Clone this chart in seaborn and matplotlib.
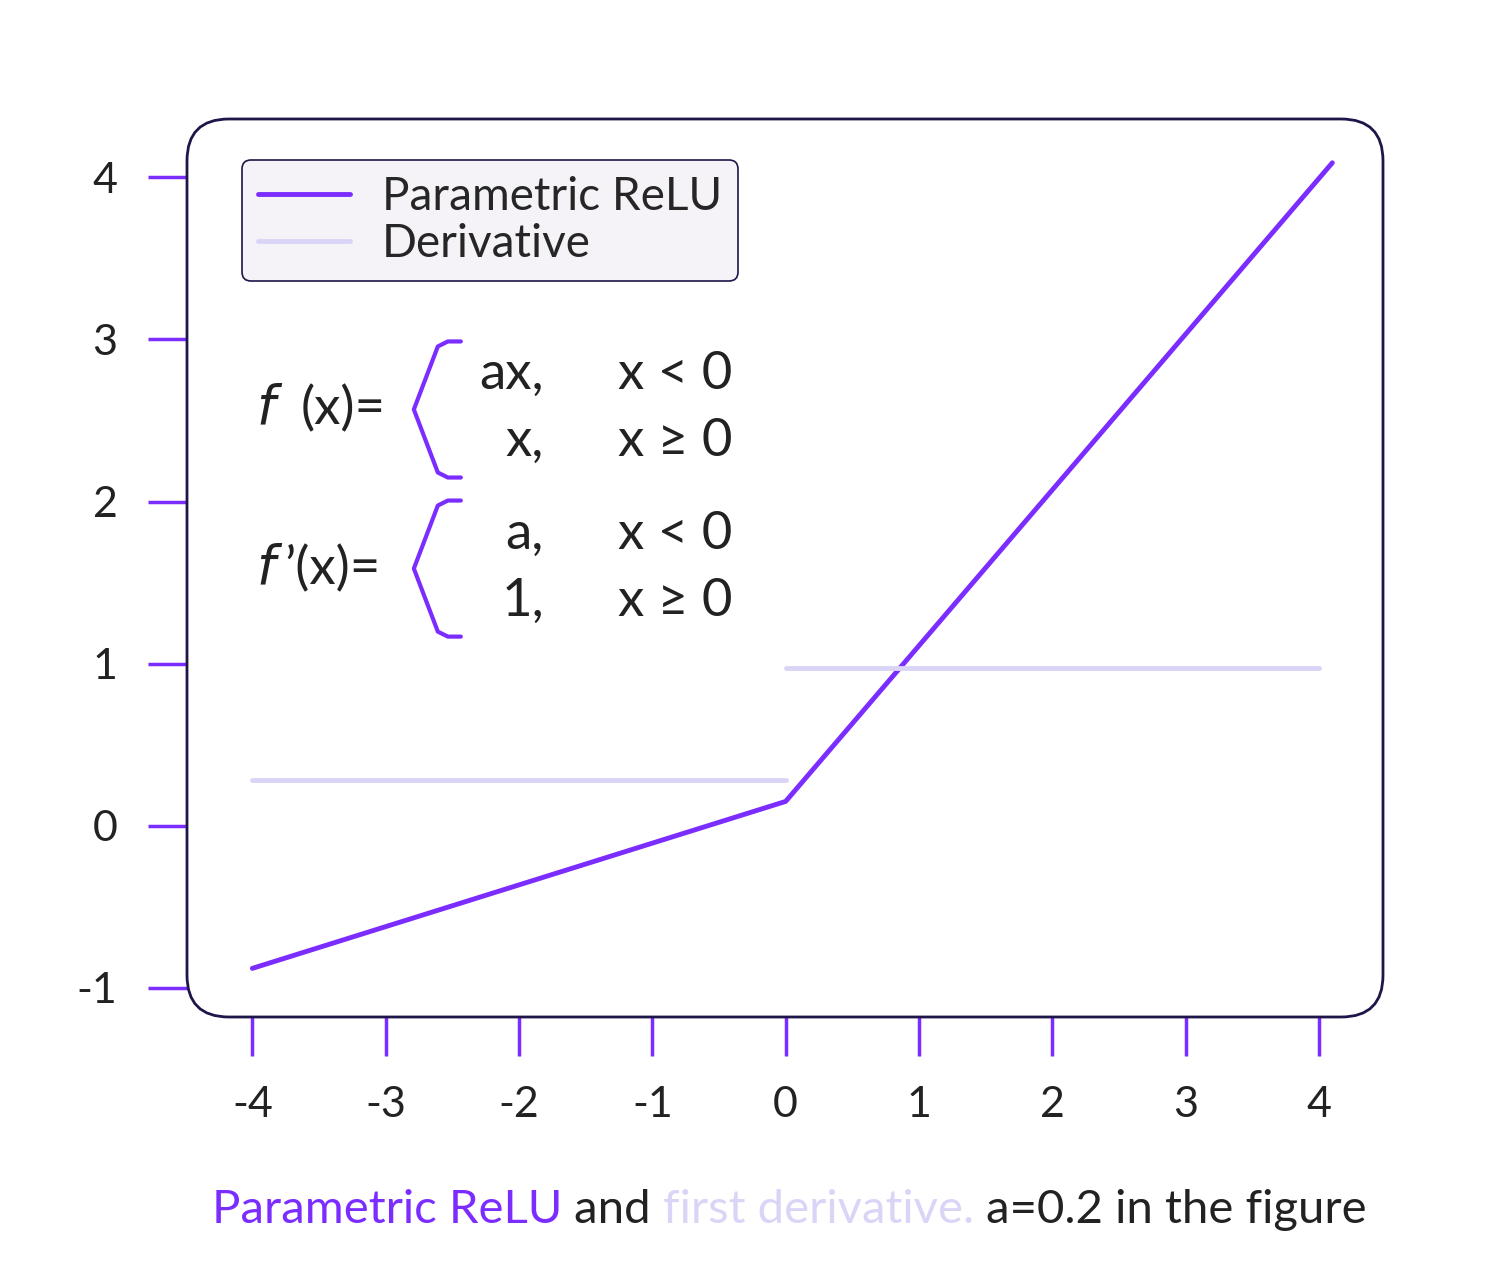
import matplotlib.pyplot as plt
import seaborn as sns
import pandas as pd
from matplotlib.patches import FancyBboxPatch

# data
relu_x = [-4, 0, 4.1]
relu_y = [-0.88, 0.15, 4.09]
deriv_left_x = [-4, 0]
deriv_left_y = [0.28, 0.28]
deriv_right_x = [0, 4]
deriv_right_y = [0.97, 0.97]
xticks = [-4, -3, -2, -1, 0, 1, 2, 3, 4]
yticks = [-1, 0, 1, 2, 3, 4]

purple = "#7B2CFF"
light = "#DAD5F7"
navy = "#1E1548"
txt = "#222222"

sns.set_theme(style="white")
plt.rcParams['font.family'] = ['Lato', 'DejaVu Sans']
plt.rcParams['axes.unicode_minus'] = False

fig = plt.figure(figsize=(15, 12.8), dpi=100)
ax = fig.add_axes([187/1500, 1-1017/1280, (1383-187)/1500, (1017-119)/1280])

df = pd.DataFrame({"x": relu_x, "y": relu_y})
sns.lineplot(data=df, x="x", y="y", ax=ax, color=purple, lw=3.5, label="Parametric ReLU")
sns.lineplot(x=deriv_left_x, y=deriv_left_y, ax=ax, color=light, lw=3.5, label="Derivative")
sns.lineplot(x=deriv_right_x, y=deriv_right_y, ax=ax, color=light, lw=3.5)

ax.set_xlim(-4.49, 4.48)
ax.set_ylim(-1.18, 4.36)
ax.set_xticks(xticks)
ax.set_yticks(yticks)
ax.set_xlabel("")
ax.set_ylabel("")
for s in ax.spines.values():
    s.set_visible(False)
ax.tick_params(axis='both', which='both', length=28, width=2.5, color=purple,
               labelsize=31, labelcolor=txt, direction='out')
ax.tick_params(axis='x', pad=22, bottom=True)
ax.tick_params(axis='y', pad=22, left=True)

frame = FancyBboxPatch((0, 0), 1, 1, boxstyle="round,pad=0,rounding_size=0.035",
                       transform=ax.transAxes, fill=False, ec=navy, lw=2,
                       clip_on=False, mutation_aspect=1196/898)
ax.add_patch(frame)

leg = ax.legend(loc="upper left", bbox_to_anchor=(0.046, 0.954), borderaxespad=0,
                fontsize=33, frameon=True, fancybox=True, facecolor="#F5F3F7",
                edgecolor=navy, framealpha=1, handlelength=2.0, borderpad=0.35,
                labelspacing=0.1, handletextpad=0.7)
leg.get_frame().set_linewidth(1.2)
for line in leg.get_lines():
    line.set_linewidth(3.5)


def px(xp, yp):
    return (xp - 785) / 133.4, (826 - yp) / 162


def brace(top):
    pts = [(460, top), (447, top), (437, top + 5), (413, top + 68),
           (437, top + 131), (447, top + 136), (460, top + 136)]
    xs, ys = zip(*[px(a, b) for a, b in pts])
    ax.plot(xs, ys, color=purple, lw=3, solid_capstyle='round')


brace(342)
brace(501)

fs = 38
ax.text(*px(255, 410), r"$f$", fontsize=fs, color=txt, va="center", ha="left")
ax.text(*px(300, 410), "(x)=", fontsize=fs, color=txt, va="center", ha="left")
ax.text(*px(255, 570), r"$f$", fontsize=fs, color=txt, va="center", ha="left")
ax.text(*px(283, 570), "\u2019(x)=", fontsize=fs, color=txt, va="center", ha="left")
for label, cond, yp in [("ax,", "x < 0", 375), ("x,", "x \u2265 0", 442),
                        ("a,", "x < 0", 535), ("1,", "x \u2265 0", 602)]:
    ax.text(*px(543, yp), label, fontsize=fs, color=txt, va="center", ha="right")
    ax.text(*px(617, yp), cond, fontsize=fs, color=txt, va="center", ha="left")

# caption in three colours
cap = fig.text(212/1500, 1-1210/1280, "Parametric ReLU", fontsize=34, color=purple, va="center")
parts = [(" and ", txt), ("first derivative.", light), (" a=0.2 in the figure", txt)]
prev = cap
for s, c in parts:
    prev = ax.annotate(s, xy=(1, 0.5), xycoords=prev, va="center", ha="left",
                       fontsize=34, color=c, annotation_clip=False)

fig.savefig("out.png", dpi=100, facecolor="white")
